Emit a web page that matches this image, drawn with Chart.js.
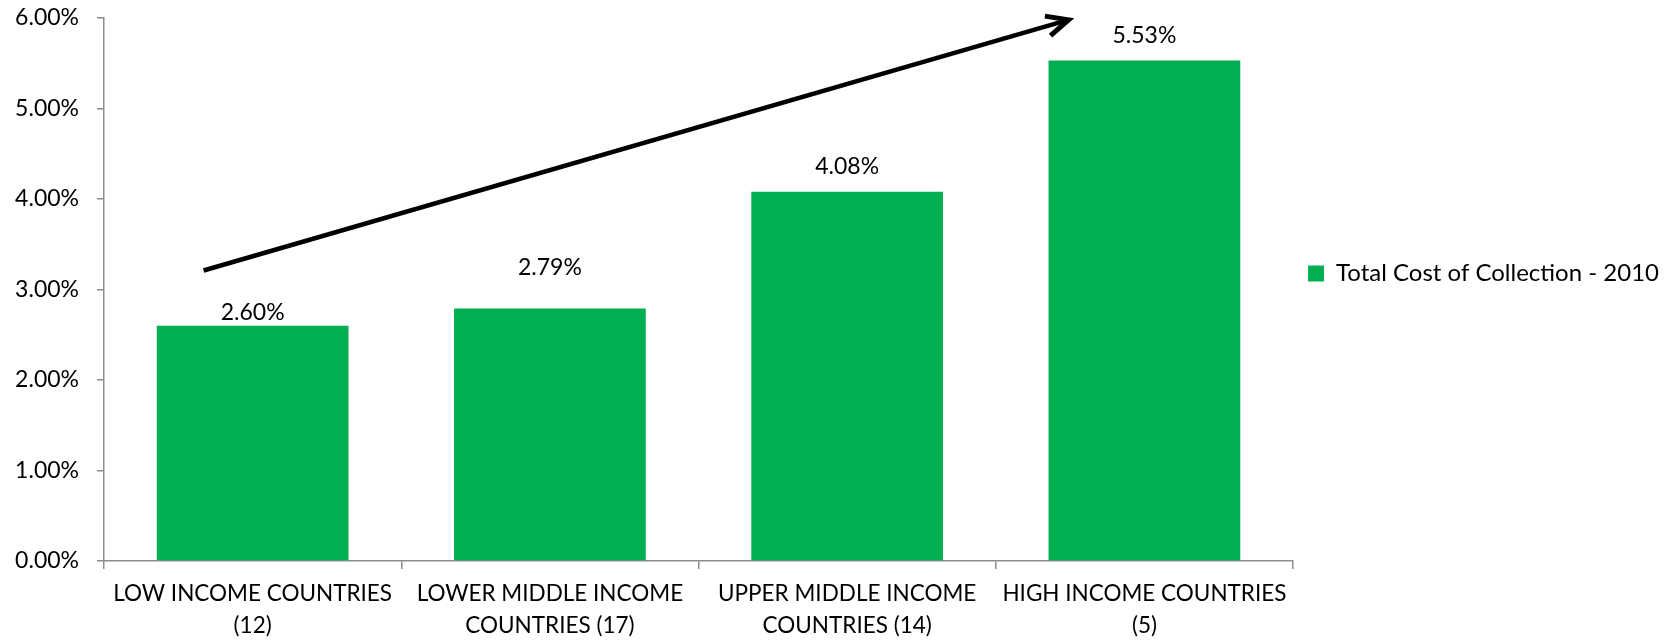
<!DOCTYPE html>
<html>
<head>
<meta charset="utf-8">
<script src="https://cdn.jsdelivr.net/npm/chart.js@4.4.1/dist/chart.umd.min.js"></script>
<style>
  html, body { margin: 0; padding: 0; background: #ffffff; }
  #wrap { width: 1669px; height: 642px; }
</style>
</head>
<body>
<div id="wrap"><canvas id="c" width="1669" height="642"></canvas></div>
<script>
// ---- data ----
const categories = [
  ['LOW INCOME COUNTRIES', '(12)'],
  ['LOWER MIDDLE INCOME', 'COUNTRIES (17)'],
  ['UPPER MIDDLE INCOME', 'COUNTRIES (14)'],
  ['HIGH INCOME COUNTRIES', '(5)']
];
const seriesName = 'Total Cost of Collection - 2010';
const costValues = [2.60, 2.79, 4.08, 5.53];
const yMin = 0;
const yMax = 6;
const yStep = 1;

// trend arrow expressed in data coordinates (category index, percent)
const arrowFrom = { x: -0.165, y: 3.21 };
const arrowTo = { x: 2.745, y: 5.98 };

// ---- styles / positions ----
const FONT = 'Lato, "Open Sans", sans-serif';
const FONT_SIZE = 23;
const X_FONT_SIZE = 22.5;
const LEGEND_FONT_SIZE = 24;
const GREEN = '#00B050';
const AXIS = '#8c8c8c';
const labelGaps = [6, 34, 18, 18];   // px between value label baseline and bar top
const legendShift = -16;

const valueLabels = {
  id: 'valueLabels',
  afterDatasetsDraw(chart) {
    const ctx = chart.ctx;
    const meta = chart.getDatasetMeta(0);
    ctx.save();
    ctx.font = FONT_SIZE + 'px ' + FONT;
    ctx.fillStyle = '#000';
    ctx.textAlign = 'center';
    ctx.textBaseline = 'alphabetic';
    meta.data.forEach((bar, i) => {
      const v = chart.data.datasets[0].data[i];
      ctx.fillText(v.toFixed(2) + '%', bar.x, bar.y - labelGaps[i]);
    });
    ctx.restore();
  }
};

const trendArrowPlugin = {
  id: 'trendArrow',
  afterDatasetsDraw(chart) {
    const xs = chart.scales.x, ys = chart.scales.y;
    const x1 = xs.getPixelForValue(arrowFrom.x), y1 = ys.getPixelForValue(arrowFrom.y);
    const x2 = xs.getPixelForValue(arrowTo.x), y2 = ys.getPixelForValue(arrowTo.y);
    const ctx = chart.ctx;
    ctx.save();
    ctx.strokeStyle = '#000';
    ctx.lineWidth = 4.5;
    ctx.lineCap = 'butt';
    ctx.beginPath();
    ctx.moveTo(x1, y1);
    ctx.lineTo(x2 - 2, y2 + 0.6);
    ctx.stroke();
    const ang = Math.atan2(y2 - y1, x2 - x1);
    const len = 24, spread = 25 * Math.PI / 180;
    ctx.lineWidth = 5;
    ctx.lineJoin = 'miter';
    ctx.beginPath();
    ctx.moveTo(x2 - len * Math.cos(ang - spread), y2 - len * Math.sin(ang - spread));
    ctx.lineTo(x2, y2);
    ctx.lineTo(x2 - len * Math.cos(ang + spread), y2 - len * Math.sin(ang + spread));
    ctx.stroke();
    ctx.restore();
  }
};

const legendMover = {
  id: 'legendMover',
  afterLayout(chart) {
    if (chart.legend) {
      chart.legend.top += legendShift;
      chart.legend.bottom += legendShift;
    }
  }
};

Chart.defaults.font.family = FONT;
Chart.defaults.font.size = FONT_SIZE;
Chart.defaults.color = '#000';

new Chart(document.getElementById('c'), {
  type: 'bar',
  data: {
    labels: categories,
    datasets: [{
      label: seriesName,
      data: costValues,
      backgroundColor: GREEN,
      borderWidth: 0,
      barPercentage: 0.645,
      categoryPercentage: 1.0
    }]
  },
  options: {
    responsive: false,
    animation: false,
    devicePixelRatio: 1,
    layout: { padding: { top: 18, right: 0, bottom: 0, left: 0 } },
    plugins: {
      legend: {
        position: 'right',
        fullSize: false,
        align: 'center',
        labels: {
          boxWidth: 16,
          boxHeight: 16,
          padding: 15,
          color: '#000',
          font: { family: FONT, size: LEGEND_FONT_SIZE }
        }
      },
      tooltip: { enabled: false }
    },
    scales: {
      x: {
        grid: { display: true, drawOnChartArea: false, drawTicks: true, tickLength: 8, color: AXIS, lineWidth: 1.5, offset: true },
        border: { display: true, color: AXIS, width: 1.5 },
        ticks: { color: '#000', font: { family: FONT, size: X_FONT_SIZE, lineHeight: 1.42 }, padding: 9, maxRotation: 0, autoSkip: false },
        afterFit(scale) { scale.height = 81; scale.paddingLeft = 0; scale.paddingRight = 0; }
      },
      y: {
        min: yMin,
        max: yMax,
        grid: { display: true, drawOnChartArea: false, drawTicks: true, tickLength: 7, color: AXIS, lineWidth: 1.5 },
        border: { display: true, color: AXIS, width: 1.5 },
        ticks: {
          stepSize: yStep,
          color: '#000',
          padding: 18,
          font: { family: FONT, size: FONT_SIZE },
          callback: (v) => Number(v).toFixed(2) + '%'
        },
        afterFit(scale) { scale.width = 104; scale.paddingTop = 0; scale.paddingBottom = 0; }
      }
    }
  },
  plugins: [valueLabels, trendArrowPlugin, legendMover]
});
</script>
</body>
</html>
